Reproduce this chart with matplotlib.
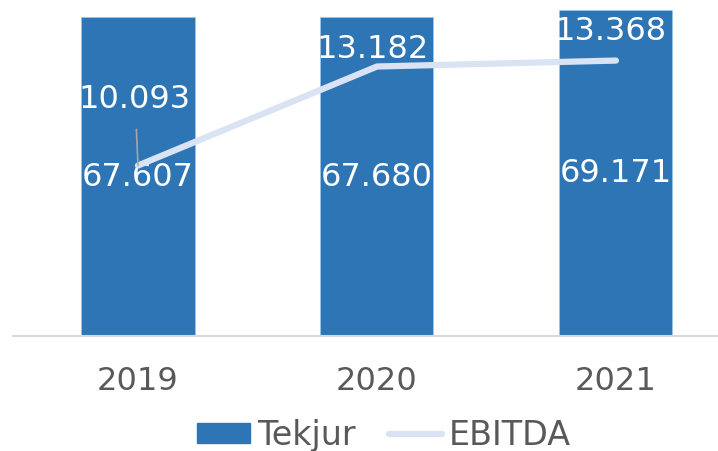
import matplotlib
matplotlib.use('Agg')
import matplotlib.pyplot as plt
from matplotlib.patches import Patch
from matplotlib.lines import Line2D

years = ['2019', '2020', '2021']
tekjur = [67.607, 67.680, 69.171]
ebitda = [10.093, 13.182, 13.368]

def fmt(v):
    return '{:.3f}'.format(v)

bar_col = '#2E75B6'
line_col = '#DAE3F3'
grey = '#595959'

fig = plt.figure(figsize=(7.18, 4.52), dpi=100)
ax = fig.add_axes([13/718, 115.5/452, 705/718, 329.5/452])
x = list(range(len(years)))

bars = ax.bar(x, tekjur, width=0.473, color=bar_col, edgecolor='#9DC3E6', linewidth=0.6, zorder=2)
ax.set_xlim(-0.523, 2.427)
ax.set_ylim(0, 70.05)
for b, v in zip(bars, tekjur):
    ax.text(b.get_x() + b.get_width()/2, v/2, fmt(v), ha='center', va='center',
            color='white', fontsize=23, zorder=3)

for s in ['top', 'left', 'right']:
    ax.spines[s].set_visible(False)
ax.spines['bottom'].set_color('#D9D9D9')
ax.spines['bottom'].set_linewidth(1.5)
ax.set_yticks([])
ax.set_xticks(x)
ax.set_xticklabels(years, fontsize=23, color=grey)
ax.tick_params(axis='x', length=0, pad=21)

ax2 = ax.twinx()
ax2.set_ylim(4.79, 15.07)
ax2.axis('off')
ax2.plot(x, ebitda, color=line_col, lw=4.5, solid_capstyle='round', zorder=3)

# label offsets in pixels (manually placed in the original)
offs = [(-3, 67), (-4, 18), (-5, 30)]
for i, v in enumerate(ebitda):
    kw = {}
    if i == 0:
        kw['arrowprops'] = dict(arrowstyle='-', color='#A6A6A6', lw=1.2, shrinkA=9, shrinkB=0)
    ax2.annotate(fmt(v), (x[i], v), xytext=offs[i], textcoords='offset pixels',
                 ha='center', va='center', color='white', fontsize=23, **kw)

handles = [Patch(facecolor=bar_col, edgecolor=bar_col),
           Line2D([], [], color=line_col, lw=4.5, solid_capstyle='round')]
leg = fig.legend(handles, ['Tekjur', 'EBITDA'], loc='center left',
                 bbox_to_anchor=(197/718, 1 - 436/452), frameon=False, ncol=2,
                 borderpad=0, borderaxespad=0, handlelength=1.6, handleheight=0.55,
                 handletextpad=0.2, columnspacing=1.0,
                 prop={'size': 24})
for t in leg.get_texts():
    t.set_color(grey)

fig.savefig('out.png', dpi=100)
